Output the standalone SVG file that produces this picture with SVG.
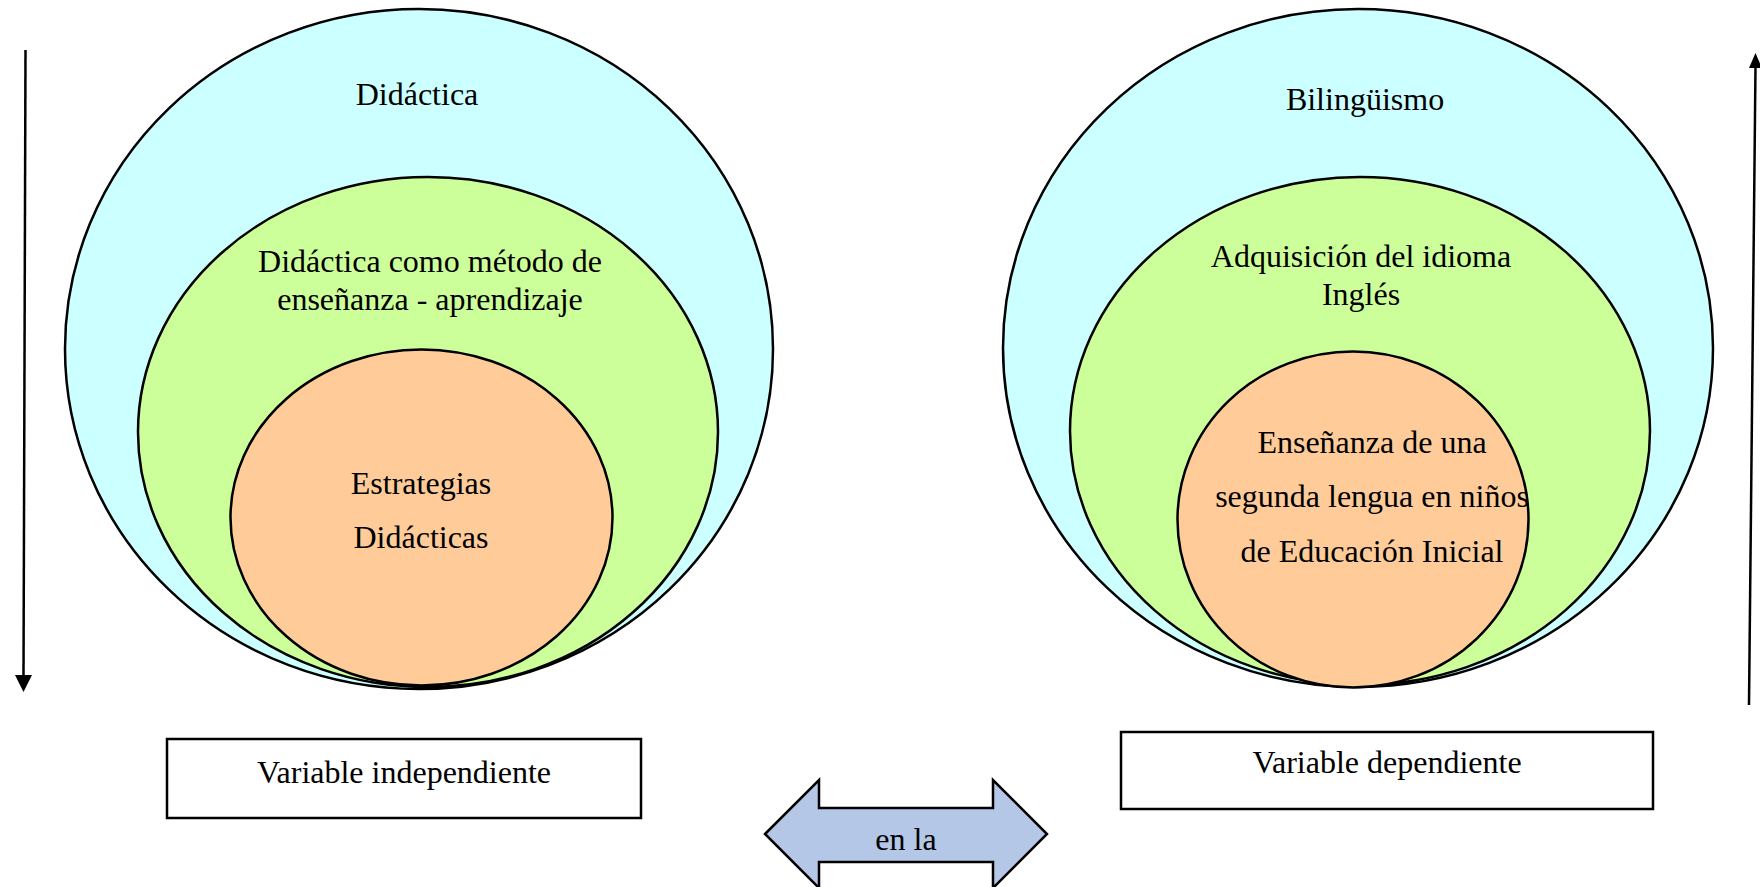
<svg xmlns="http://www.w3.org/2000/svg" width="1760" height="887" viewBox="0 0 1760 887">
<style>
.t{font-family:"Liberation Serif","Times New Roman",serif;font-size:32px;fill:#000;text-anchor:middle}
.o{fill:#CCFFFF;stroke:#000;stroke-width:2.5}
.m{fill:#CCFF99;stroke:#000;stroke-width:2.5}
.i{fill:#FFCC99;stroke:#000;stroke-width:2.5}
.b{fill:#fff;stroke:#000;stroke-width:2.5}
.ln{stroke:#000;stroke-width:2.5;fill:none}
</style>
<rect width="1760" height="887" fill="#fff"/>
<g id="left-outer"><ellipse class="o" cx="419" cy="349" rx="354" ry="340"/><text class="t" x="417" y="105">Didáctica</text></g>
<g id="left-middle"><ellipse class="m" cx="428" cy="432" rx="290" ry="255"/><text class="t" x="430" y="272">Didáctica como método de</text><text class="t" x="430" y="310">enseñanza - aprendizaje</text></g>
<g id="left-inner"><ellipse class="i" cx="421.5" cy="517.5" rx="191" ry="168"/><text class="t" x="421" y="494">Estrategias</text><text class="t" x="421" y="548">Didácticas</text></g>
<g id="right-outer"><ellipse class="o" cx="1358" cy="348" rx="355" ry="339"/><text class="t" x="1365" y="110">Bilingüismo</text></g>
<g id="right-middle"><ellipse class="m" cx="1360" cy="431" rx="290" ry="254"/><text class="t" x="1361" y="267">Adquisición del idioma</text><text class="t" x="1361" y="305">Inglés</text></g>
<g id="right-inner"><ellipse class="i" cx="1353" cy="519.5" rx="175.5" ry="168"/><text class="t" x="1372" y="453">Enseñanza de una</text><text class="t" x="1372" y="507">segunda lengua en niños</text><text class="t" x="1372" y="562">de Educación Inicial</text></g>
<g id="box-independiente"><rect class="b" x="167" y="739" width="474" height="79"/><text class="t" x="404" y="783">Variable independiente</text></g>
<g id="box-dependiente"><rect class="b" x="1121" y="732" width="532" height="77"/><text class="t" x="1387" y="773">Variable dependiente</text></g>
<g id="en-la"><polygon points="765,834 819,780 819,808 993,808 993,780 1047,834 993,888 993,862 819,862 819,888" fill="#B4C7E7" stroke="#000" stroke-width="2.5"/><text class="t" x="906" y="850">en la</text></g>
<g id="connectors">
<line class="ln" x1="25.5" y1="50" x2="23.5" y2="677"/>
<polygon points="15,675 32,675 23.5,692" fill="#000"/>
<line class="ln" x1="1749" y1="705" x2="1755.5" y2="66"/>
<polygon points="1749,68 1762,68 1755.5,53" fill="#000"/>
</g>
</svg>
